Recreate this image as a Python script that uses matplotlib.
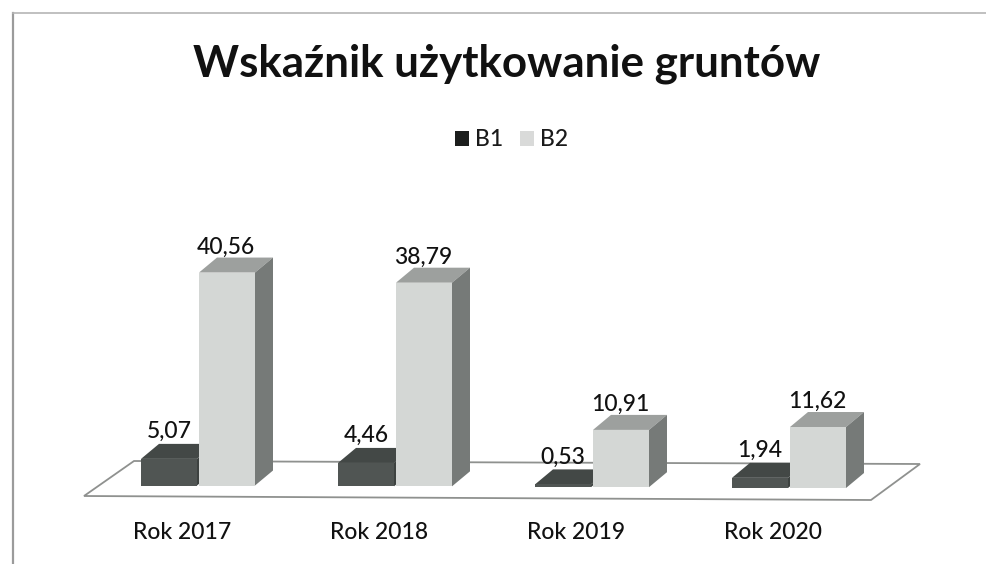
import matplotlib
matplotlib.use("Agg")
import matplotlib.pyplot as plt
from matplotlib.patches import Polygon, Patch
from matplotlib.lines import Line2D

categories = ["Rok 2017", "Rok 2018", "Rok 2019", "Rok 2020"]
b1_values = [5.07, 4.46, 0.53, 1.94]
b2_values = [40.56, 38.79, 10.91, 11.62]
b1_labels = ["5,07", "4,46", "0,53", "1,94"]
b2_labels = ["40,56", "38,79", "10,91", "11,62"]

W, H = 987, 564
PX_X = 197.0      # pixels per category
PX_Y = 5.25       # pixels per value unit
ORIGIN_X = 198.0  # pixel x of category 0 (between its two bars)
ORIGIN_Y = 485.5  # pixel y of value 0
AX_BOTTOM = 510.0
TEXT = "#111111"

plt.rcParams["font.family"] = ["Lato", "DejaVu Sans"]
plt.rcParams["font.weight"] = "medium"
fig = plt.figure(figsize=(W / 100, H / 100), dpi=100, facecolor="white")
ax = fig.add_axes([0, (H - AX_BOTTOM) / H, 1, AX_BOTTOM / H])
ax.set_xlim(-ORIGIN_X / PX_X, (W - ORIGIN_X) / PX_X)
ax.set_ylim(-(AX_BOTTOM - ORIGIN_Y) / PX_Y, ORIGIN_Y / PX_Y)
ax.patch.set_alpha(0)
for s in ax.spines.values():
    s.set_visible(False)
ax.set_yticks([])

# depth and bar geometry, in data units
DX, DY = 18.0 / PX_X, 15.0 / PX_Y
BAR_W = 56.0 / PX_X
GAP = 2.0 / PX_X
TILT = 0.16  # value units the baseline sinks per category (scan skew)

# floor
fx0, fx1 = (84 - ORIGIN_X) / PX_X, (871 - ORIGIN_X) / PX_X
floor_y0 = -10.5 / PX_Y
floor = Polygon(
    [(fx0, floor_y0), (fx0 + 50 / PX_X, floor_y0 + 35 / PX_Y),
     (fx1 + 49 / PX_X, floor_y0 + 32 / PX_Y), (fx1, floor_y0 - 4 / PX_Y)],
    closed=True, facecolor="white", edgecolor="#8f918f", linewidth=1.3, zorder=1)
ax.add_patch(floor)


def bar3d(x_left, base, value, front, top, side, z):
    ax.bar(x_left, value, width=BAR_W, bottom=base, align="edge",
           color=front, linewidth=0, zorder=z + 0.2)
    x_right = x_left + BAR_W
    y_top = base + value
    ax.add_patch(Polygon([(x_left, y_top), (x_left + DX, y_top + DY),
                          (x_right + DX, y_top + DY), (x_right, y_top)],
                         closed=True, facecolor=top, linewidth=0, zorder=z))
    ax.add_patch(Polygon([(x_right, base), (x_right + DX, base + DY),
                          (x_right + DX, y_top + DY), (x_right, y_top)],
                         closed=True, facecolor=side, linewidth=0, zorder=z))


for i, (v1, v2) in enumerate(zip(b1_values, b2_values)):
    base = -TILT * i
    bar3d(i - BAR_W - GAP / 2, base, v1, "#505553", "#434846", "#3d4240", 2 + i)
    bar3d(i + GAP / 2, base, v2, "#d4d7d5", "#9da09e", "#767a78", 2.5 + i)
    ax.text(i - BAR_W / 2 - 1 / PX_X, base + v1 + DY + 6 / PX_Y, b1_labels[i],
            ha="center", va="baseline", fontsize=16.5, color=TEXT, zorder=10)
    ax.text(i + BAR_W / 2, base + v2 + DY + 4 / PX_Y, b2_labels[i],
            ha="center", va="baseline", fontsize=16.5, color=TEXT, zorder=10)

ax.set_xticks([i - 16 / PX_X for i in range(len(categories))], categories)
ax.tick_params(axis="x", length=0, pad=8.5, labelsize=16.5, labelcolor=TEXT)

fig.text(507 / W, 1 - 64 / H, "Wskaźnik użytkowanie gruntów", ha="center", va="center",
         fontsize=31.6, fontweight="bold", color="#111111")

leg = fig.legend(
    handles=[Patch(facecolor="#1c1e1d", label="B1"), Patch(facecolor="#d9dad9", label="B2")],
    loc="center", bbox_to_anchor=(511.5 / W, 1 - 140 / H), ncol=2, frameon=False,
    fontsize=16.5, handlelength=0.6, handleheight=0.6, handletextpad=0.26,
    columnspacing=0.72, labelcolor="#1a1a1a")

# scanned page frame
fig.add_artist(Line2D([13 / W, 13 / W], [0, 1 - 13 / H], color="#9b9b9b", lw=1.6))
fig.add_artist(Line2D([13 / W, 1], [1 - 13 / H, 1 - 13 / H], color="#b5b5b5", lw=1.2))

fig.savefig("out.png", dpi=100, facecolor="white")
